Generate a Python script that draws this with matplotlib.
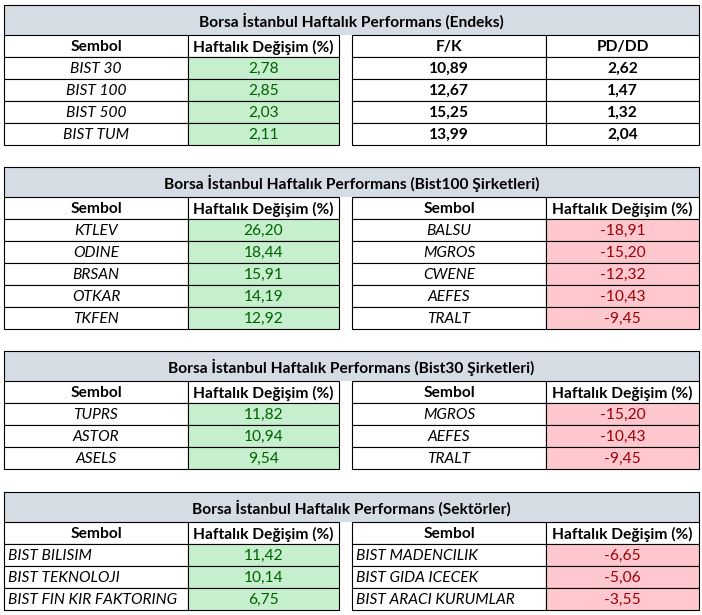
import matplotlib.pyplot as plt
from matplotlib.patches import Rectangle

plt.rcParams['font.family'] = ['Lato', 'DejaVu Sans']

# ---- data ----
endeks_title = "Borsa İstanbul Haftalık Performans (Endeks)"
endeks_sembol = ["BIST 30", "BIST 100", "BIST 500", "BIST TUM"]
endeks_degisim = [2.78, 2.85, 2.03, 2.11]
endeks_fk = [10.89, 12.67, 15.25, 13.99]
endeks_pddd = [2.62, 1.47, 1.32, 2.04]

b100_title = "Borsa İstanbul Haftalık Performans (Bist100 Şirketleri)"
b100_up = ["KTLEV", "ODINE", "BRSAN", "OTKAR", "TKFEN"]
b100_up_val = [26.20, 18.44, 15.91, 14.19, 12.92]
b100_down = ["BALSU", "MGROS", "CWENE", "AEFES", "TRALT"]
b100_down_val = [-18.91, -15.20, -12.32, -10.43, -9.45]

b30_title = "Borsa İstanbul Haftalık Performans (Bist30 Şirketleri)"
b30_up = ["TUPRS", "ASTOR", "ASELS"]
b30_up_val = [11.82, 10.94, 9.54]
b30_down = ["MGROS", "AEFES", "TRALT"]
b30_down_val = [-15.20, -10.43, -9.45]

sek_title = "Borsa İstanbul Haftalık Performans (Sektörler)"
sek_up = ["BIST BILISIM", "BIST TEKNOLOJI", "BIST FIN KIR FAKTORING"]
sek_up_val = [11.42, 10.14, 6.75]
sek_down = ["BIST MADENCILIK", "BIST GIDA ICECEK", "BIST ARACI KURUMLAR"]
sek_down_val = [-6.65, -5.06, -3.55]

col_sembol = "Sembol"
col_degisim = "Haftalık Değişim (%)"

# ---- style ----
BAND = "#D6DCE4"
GREEN_BG, GREEN_TX = "#C6EFCE", "#006100"
RED_BG, RED_TX = "#FFC7CE", "#9C0006"
FS = 11.2
BAND_H = 30
ROW_H = 22
LW = 0.8

# left table x: 4..188..339, right table x: 352..546..699
L0, L1, L2 = 4, 188, 339
R0, R1, R2 = 352, 546, 699


def fmt(v):
    return f"{v:.2f}".replace(".", ",")


fig = plt.figure(figsize=(7.02, 6.15), dpi=100)
ax = fig.add_axes([0, 0, 1, 1])
ax.set_xlim(0, 702)
ax.set_ylim(615, 0)
ax.axis('off')


def cell(x0, x1, y0, txt, bg="white", color="black", weight="normal",
         style="normal", align="center"):
    ax.add_patch(Rectangle((x0, y0), x1 - x0, ROW_H, facecolor=bg,
                           edgecolor="black", lw=LW))
    if align == "left":
        tx, ha = x0 + 4, "left"
    else:
        tx, ha = (x0 + x1) / 2, "center"
    ax.text(tx, y0 + ROW_H / 2 + 1, txt, ha=ha, va="center", fontsize=FS,
            color=color, fontweight=weight, fontstyle=style)


def section(top, title, heads_l, heads_r, names_l, vals_l, names_r, vals_r,
            kind="updown", align="center"):
    ax.add_patch(Rectangle((L0, top), R2 - L0, BAND_H, facecolor=BAND,
                           edgecolor="none"))
    ax.plot([L0, L0, R2, R2], [top + BAND_H, top, top, top + BAND_H],
            color="black", lw=LW)
    ax.text((L0 + R2) / 2, top + BAND_H / 2 + 1, title, ha="center",
            va="center", fontsize=FS, fontweight="bold")
    y = top + BAND_H
    cell(L0, L1, y, heads_l[0], weight="bold")
    cell(L1, L2, y, heads_l[1], weight="bold")
    cell(R0, R1, y, heads_r[0], weight="bold")
    cell(R1, R2, y, heads_r[1], weight="bold")
    for i in range(len(names_l)):
        yy = y + ROW_H * (i + 1)
        cell(L0, L1, yy, names_l[i], style="italic", align=align)
        cell(L1, L2, yy, fmt(vals_l[i]), bg=GREEN_BG, color=GREEN_TX)
        if kind == "ratio":
            cell(R0, R1, yy, fmt(names_r[i]), weight="bold")
            cell(R1, R2, yy, fmt(vals_r[i]), weight="bold")
        else:
            cell(R0, R1, yy, names_r[i], style="italic", align=align)
            cell(R1, R2, yy, fmt(vals_r[i]), bg=RED_BG, color=RED_TX)


section(5, endeks_title, [col_sembol, col_degisim], ["F/K", "PD/DD"],
        endeks_sembol, endeks_degisim, endeks_fk, endeks_pddd, kind="ratio")
section(167, b100_title, [col_sembol, col_degisim], [col_sembol, col_degisim],
        b100_up, b100_up_val, b100_down, b100_down_val)
section(351, b30_title, [col_sembol, col_degisim], [col_sembol, col_degisim],
        b30_up, b30_up_val, b30_down, b30_down_val)
section(492, sek_title, [col_sembol, col_degisim], [col_sembol, col_degisim],
        sek_up, sek_up_val, sek_down, sek_down_val, align="left")

fig.savefig("out.png", dpi=100, facecolor="white")
